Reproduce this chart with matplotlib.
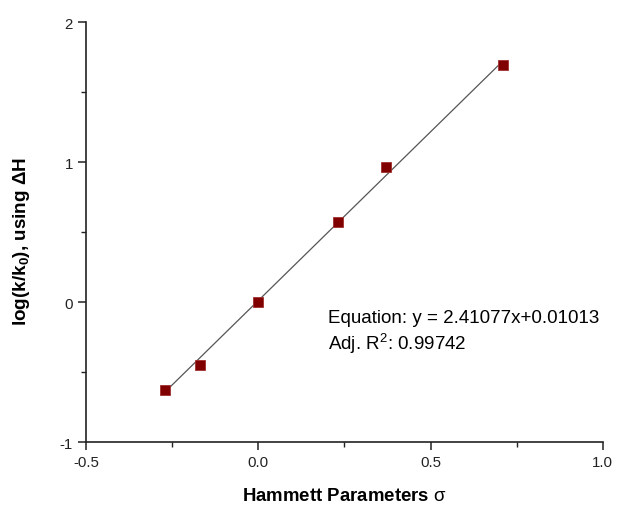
import matplotlib.pyplot as plt
import numpy as np
from matplotlib.ticker import MultipleLocator

plt.rcParams['font.family'] = ['Liberation Sans', 'DejaVu Sans']
plt.rcParams['mathtext.fontset'] = 'custom'
plt.rcParams['mathtext.rm'] = 'Liberation Sans'
plt.rcParams['mathtext.bf'] = 'Liberation Sans:bold'

# Hammett substituent constants and measured log(k/k0)
sigma = [-0.27, -0.17, 0.0, 0.23, 0.37, 0.71]
log_k = [-0.63, -0.45, 0.0, 0.574, 0.962, 1.69]

# linear fit reported on the chart
slope = 2.41077
intercept = 0.01013
adj_r2 = 0.99742

fig = plt.figure(figsize=(6.17, 5.06), dpi=100)
ax = fig.add_axes([0.1394, 0.1245, 0.8376, 0.83])

x_fit = np.array([min(sigma), max(sigma)])
ax.plot(x_fit, slope * x_fit + intercept, color='#555555', linewidth=0.9, zorder=2)
ax.plot(sigma, log_k, linestyle='none', marker='s', markersize=6.5,
        markerfacecolor='#800000', markeredgecolor='#a03030', markeredgewidth=0.6, zorder=3)

ax.set_xlim(-0.5, 1.0)
ax.set_ylim(-1, 2)
ax.xaxis.set_major_locator(MultipleLocator(0.5))
ax.xaxis.set_minor_locator(MultipleLocator(0.25))
ax.yaxis.set_major_locator(MultipleLocator(1))
ax.yaxis.set_minor_locator(MultipleLocator(0.5))
ax.xaxis.set_major_formatter(plt.FuncFormatter(lambda v, p: f"{v:.1f}"))
ax.yaxis.set_major_formatter(plt.FuncFormatter(lambda v, p: f"{v:.0f}"))

ax.spines['top'].set_visible(False)
ax.spines['right'].set_visible(False)
for s in ('left', 'bottom'):
    ax.spines[s].set_linewidth(1.2)
    ax.spines[s].set_color('#222222')
ax.tick_params(which='major', direction='out', length=6, width=1.1, labelsize=10.8, colors='#222222')
ax.tick_params(which='minor', direction='out', length=3.5, width=1.0, colors='#222222')

# sigma drawn upright and regular like the symbol font in the original
ax.set_xlabel(r'Hammett Parameters $\mathrm{σ}$', fontsize=13.4, fontweight='bold', labelpad=13)
ax.set_ylabel(r'log(k/k$_\mathbf{0}$), using ΔH', fontsize=13.6, fontweight='bold', labelpad=18)
ax.yaxis.set_label_coords(-0.105, 0.48)

ax.text(0.203, -0.11, f'Equation: y = {slope}x+{intercept:.5f}', fontsize=13.5, va='center')
ax.text(0.203, -0.29, f'Adj. R$^2$: {adj_r2}', fontsize=13.5, va='center')

fig.savefig('out.png', dpi=100)
